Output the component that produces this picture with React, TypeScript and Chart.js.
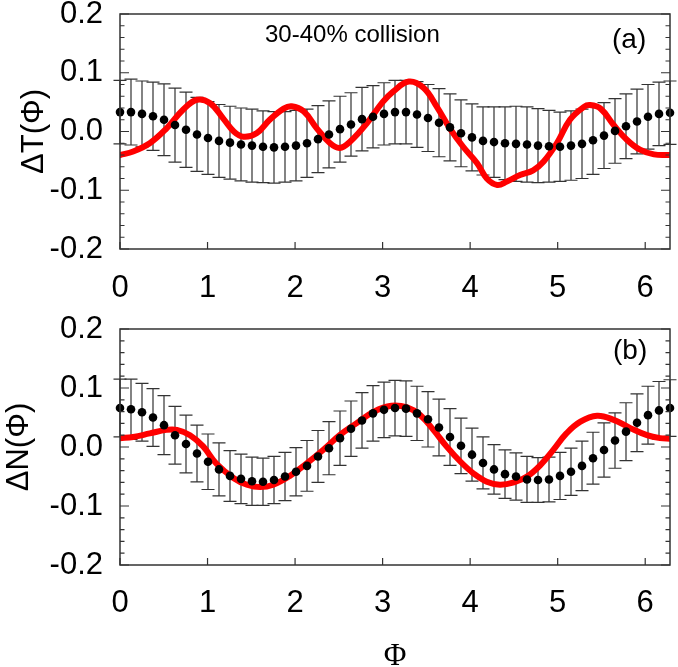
import React, { useEffect, useRef } from 'react';
import Chart from 'chart.js/auto';

const TWO_PI = 2 * Math.PI;

const xTickLabels = [0, 1, 2, 3, 4, 5, 6];
const yTickLabels = [-0.2, -0.1, 0.0, 0.1, 0.2];

// panel (a): Delta T(Phi)
const dotsT = [
  0.033, 0.033, 0.030, 0.026, 0.020, 0.011, 0.003, -0.005, -0.011, -0.016,
  -0.019, -0.022, -0.024, -0.026, -0.027, -0.026, -0.024, -0.020, -0.013, -0.005,
  0.004, 0.012, 0.021, 0.025, 0.030, 0.033, 0.033, 0.029, 0.023, 0.015,
  0.007, -0.003, -0.010, -0.016, -0.018, -0.020, -0.021, -0.022, -0.024, -0.025,
  -0.026, -0.024, -0.021, -0.015, -0.007, 0.001, 0.009, 0.017, 0.025, 0.030, 0.032,
];
const errT = [
  0.054, 0.056, 0.056, 0.058, 0.061, 0.063, 0.064, 0.063, 0.062, 0.062,
  0.062, 0.062, 0.062, 0.061, 0.061, 0.060, 0.060, 0.058, 0.057, 0.057,
  0.056, 0.054, 0.054, 0.053, 0.053, 0.054, 0.054, 0.056, 0.057, 0.058,
  0.057, 0.057, 0.057, 0.058, 0.060, 0.062, 0.064, 0.064, 0.063, 0.061,
  0.059, 0.059, 0.059, 0.058, 0.056, 0.055, 0.055, 0.055, 0.055, 0.054, 0.054,
];
const curveTPhi = [
  0.0, 0.15, 0.34, 0.53, 0.72, 0.88, 1.03, 1.18, 1.3, 1.41, 1.56, 1.71, 1.87, 1.96,
  2.1, 2.25, 2.4, 2.51, 2.63, 2.82, 3.0, 3.12, 3.3, 3.47, 3.62, 3.77, 3.92, 4.08,
  4.19, 4.31, 4.42, 4.57, 4.72, 4.84, 4.99, 5.14, 5.3, 5.37, 5.49, 5.64, 5.79,
  5.94, 6.1, 6.283,
];
const curveT = [
  -0.040, -0.034, -0.020, 0.005, 0.037, 0.054, 0.048, 0.022, 0.000, -0.009, -0.003,
  0.020, 0.039, 0.043, 0.034, 0.005, -0.020, -0.028, -0.017, 0.014, 0.050, 0.068,
  0.085, 0.074, 0.042, 0.005, -0.026, -0.054, -0.080, -0.091, -0.085, -0.074,
  -0.066, -0.051, -0.020, 0.020, 0.042, 0.045, 0.039, 0.011, -0.014, -0.031,
  -0.039, -0.040,
];

// panel (b): Delta N(Phi)
const dotsN = [
  0.066, 0.064, 0.059, 0.050, 0.037, 0.020, 0.005, -0.011, -0.025, -0.038,
  -0.049, -0.054, -0.058, -0.059, -0.056, -0.050, -0.042, -0.032, -0.016, -0.002,
  0.015, 0.031, 0.045, 0.057, 0.063, 0.066, 0.065, 0.057, 0.047, 0.033,
  0.017, 0.002, -0.013, -0.027, -0.038, -0.046, -0.050, -0.055, -0.056, -0.055,
  -0.049, -0.042, -0.032, -0.019, -0.005, 0.011, 0.026, 0.041, 0.054, 0.062, 0.066,
];
const errN = [
  0.049, 0.051, 0.049, 0.049, 0.050, 0.049, 0.049, 0.048, 0.047, 0.045,
  0.043, 0.042, 0.041, 0.040, 0.040, 0.041, 0.041, 0.043, 0.044, 0.045,
  0.046, 0.047, 0.047, 0.047, 0.047, 0.047, 0.047, 0.046, 0.047, 0.048,
  0.048, 0.047, 0.045, 0.044, 0.042, 0.041, 0.040, 0.039, 0.038, 0.038,
  0.040, 0.040, 0.042, 0.044, 0.046, 0.047, 0.049, 0.049, 0.049, 0.049, 0.048,
];
const curveNPhi = [
  0.0, 0.15, 0.34, 0.53, 0.65, 0.8, 0.95, 1.1, 1.3, 1.45, 1.6, 1.75, 1.94, 2.13,
  2.32, 2.51, 2.7, 2.9, 3.1, 3.28, 3.43, 3.58, 3.73, 3.89, 4.04, 4.19, 4.34, 4.5,
  4.65, 4.8, 4.95, 5.1, 5.26, 5.45, 5.64, 5.83, 6.02, 6.17, 6.283,
];
const curveN = [
  0.015, 0.017, 0.023, 0.029, 0.029, 0.020, 0.001, -0.028, -0.053, -0.064, -0.068,
  -0.064, -0.049, -0.028, -0.005, 0.020, 0.040, 0.060, 0.070, 0.067, 0.054, 0.029,
  0.001, -0.025, -0.045, -0.059, -0.064, -0.060, -0.050, -0.031, -0.005, 0.023,
  0.043, 0.053, 0.046, 0.032, 0.020, 0.015, 0.014,
];

const SANS = '"Liberation Sans", Arial, sans-serif';
const SERIF = '"Liberation Serif", "Times New Roman", serif';
const AXIS_COLOR = '#333';

const phiGrid = (vals: number[]) => vals.map((_, i) => (i * TWO_PI) / (vals.length - 1));

type Note = { text: string; x: number; y: number; size: number };

type PanelProps = {
  top: number;
  height: number;
  padTop: number;
  plotBottom: number;
  labelPad: number;
  yTitle: string;
  yTitlePad: number;
  xTitle?: string;
  dots: number[];
  err: number[];
  curvePhi: number[];
  curve: number[];
  notes: Note[];
};

const decorPlugin = (p: PanelProps) => ({
  id: 'decor',
  beforeDatasetsDraw(chart: any) {
    const { ctx } = chart;
    const xs = chart.scales.x;
    const ys = chart.scales.y;
    const phi = phiGrid(p.dots);
    ctx.save();
    ctx.strokeStyle = AXIS_COLOR;
    ctx.lineWidth = 1.2;
    p.dots.forEach((v, i) => {
      const px = xs.getPixelForValue(phi[i]);
      const t = ys.getPixelForValue(v + p.err[i]);
      const b = ys.getPixelForValue(v - p.err[i]);
      ctx.beginPath();
      ctx.moveTo(px, t);
      ctx.lineTo(px, b);
      ctx.moveTo(px - 6.5, t);
      ctx.lineTo(px + 6.5, t);
      ctx.moveTo(px - 6.5, b);
      ctx.lineTo(px + 6.5, b);
      ctx.stroke();
    });
    ctx.restore();
  },
  afterDraw(chart: any) {
    const { ctx, chartArea: a } = chart;
    const xs = chart.scales.x;
    const ys = chart.scales.y;
    ctx.save();
    ctx.strokeStyle = AXIS_COLOR;
    ctx.lineWidth = 1.2;
    ctx.beginPath();
    // minor / major ticks on left and right, pointing inward
    for (let k = -10; k <= 10; k++) {
      const py = ys.getPixelForValue(k * 0.02);
      const len = k % 5 === 0 ? 9 : 4.5;
      ctx.moveTo(a.left, py);
      ctx.lineTo(a.left + len, py);
      ctx.moveTo(a.right, py);
      ctx.lineTo(a.right - len, py);
    }
    xTickLabels.forEach((v) => {
      const px = xs.getPixelForValue(v);
      ctx.moveTo(px, a.bottom);
      ctx.lineTo(px, a.bottom - 7);
    });
    ctx.stroke();
    ctx.lineWidth = 1.5;
    ctx.strokeRect(a.left, a.top, a.right - a.left, a.bottom - a.top);
    ctx.fillStyle = '#000';
    ctx.textBaseline = 'middle';
    ctx.textAlign = 'left';
    p.notes.forEach((n) => {
      ctx.font = `${n.size}px ${SANS}`;
      ctx.fillText(n.text, n.x, n.y);
    });
    ctx.restore();
  },
});

const Panel = (p: PanelProps) => {
  const canvasRef = useRef<HTMLCanvasElement | null>(null);

  useEffect(() => {
    const ctx = canvasRef.current?.getContext('2d') as any;
    const phi = phiGrid(p.dots);
    const chart = new Chart(ctx, {
      type: 'scatter',
      data: {
        datasets: [
          {
            data: p.dots.map((v, i) => ({ x: phi[i], y: v })),
            backgroundColor: '#000',
            borderColor: '#000',
            pointRadius: 4.3,
            pointBorderWidth: 0,
            showLine: false,
            clip: false,
          } as any,
          {
            data: p.curve.map((v, i) => ({ x: p.curvePhi[i], y: v })),
            borderColor: '#ff0000',
            borderWidth: 6,
            pointRadius: 0,
            showLine: true,
            tension: 0.4,
            borderCapStyle: 'round',
            borderJoinStyle: 'round',
          },
        ],
      },
      options: {
        responsive: false,
        animation: false,
        events: [],
        layout: { padding: { top: p.padTop, right: 8, left: 0, bottom: 0 } },
        scales: {
          x: {
            type: 'linear',
            min: 0,
            max: TWO_PI,
            grid: { display: false, drawTicks: false },
            border: { display: false },
            afterBuildTicks: (scale: any) => {
              scale.ticks = xTickLabels.map((value) => ({ value }));
            },
            afterFit: (scale: any) => {
              scale.height = p.height - p.plotBottom;
              scale.paddingLeft = 0;
              scale.paddingRight = 0;
            },
            ticks: {
              autoSkip: false,
              maxRotation: 0,
              padding: p.labelPad,
              color: '#000',
              font: { family: SANS, size: 31 },
              callback: (v: any) => String(v),
            },
            title: {
              display: !!p.xTitle,
              text: p.xTitle || '',
              color: '#000',
              font: { family: SERIF, size: 31 },
              padding: { top: 0, bottom: 3 },
            },
          },
          y: {
            min: -0.2,
            max: 0.2,
            grid: { display: false, drawTicks: false },
            border: { display: false },
            afterBuildTicks: (scale: any) => {
              scale.ticks = yTickLabels.map((value) => ({ value }));
            },
            afterFit: (scale: any) => {
              scale.width = 120;
              scale.paddingTop = 0;
              scale.paddingBottom = 0;
            },
            ticks: {
              autoSkip: false,
              padding: 17,
              color: '#000',
              font: { family: SANS, size: 31 },
              callback: (v: any) => Number(v).toFixed(1),
            },
            title: {
              display: true,
              text: p.yTitle,
              color: '#000',
              font: { family: SANS, size: 31 },
              padding: { top: p.yTitlePad, bottom: 0 },
            },
          },
        },
        plugins: {
          legend: { display: false },
          tooltip: { enabled: false },
        },
      },
      plugins: [decorPlugin(p)],
    });

    return () => {
      chart.destroy();
    };
  }, [canvasRef]);

  return (
    <canvas
      ref={canvasRef}
      width={678}
      height={p.height}
      style={{ position: 'absolute', left: 0, top: p.top, width: 678, height: p.height }}
    />
  );
};

const App = () => (
  <div style={{ position: 'fixed', left: 0, top: 0, width: 678, height: 667, overflow: 'hidden', background: '#fff' }}>
    <Panel
      top={0}
      height={318}
      padTop={14}
      plotBottom={249}
      labelPad={21}
      yTitle="ΔT(Φ)"
      yTitlePad={16}
      dots={dotsT}
      err={errT}
      curvePhi={curveTPhi}
      curve={curveT}
      notes={[
        { text: '30-40% collision', x: 265, y: 35, size: 24 },
        { text: '(a)', x: 612, y: 40, size: 28 },
      ]}
    />
    <Panel
      top={295}
      height={383}
      padTop={34}
      plotBottom={270}
      labelPad={20}
      yTitle="ΔN(Φ)"
      yTitlePad={1}
      xTitle="Φ"
      dots={dotsN}
      err={errN}
      curvePhi={curveNPhi}
      curve={curveN}
      notes={[{ text: '(b)', x: 613, y: 56, size: 28 }]}
    />
  </div>
);

export default App;
